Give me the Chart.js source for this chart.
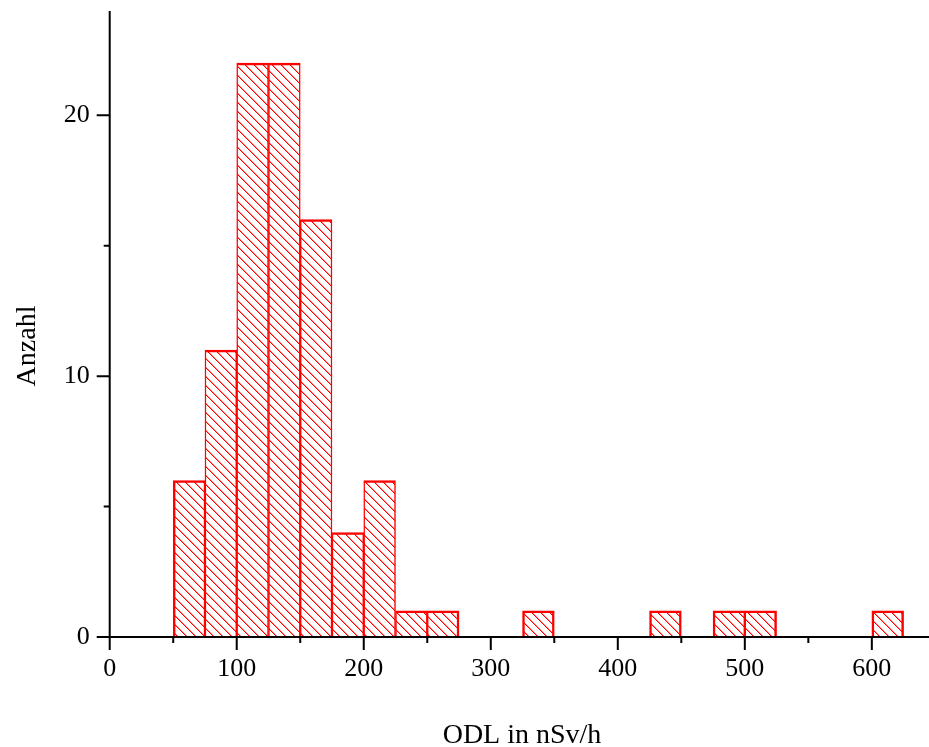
<!DOCTYPE html>
<html>
<head>
<meta charset="utf-8">
<script src="https://cdn.jsdelivr.net/npm/chart.js@4.4.1/dist/chart.umd.min.js"></script>
<style>
  html, body { margin: 0; padding: 0; background: #fff; }
  canvas { display: block; }
</style>
</head>
<body>
<canvas id="hist" width="929" height="747"></canvas>
<script>
// histogram bins (left edge, width 25 nSv/h) and counts
const binStart = [50, 75, 100, 125, 150, 175, 200, 225, 250, 325, 425, 475, 500, 600];
const counts   = [6, 11, 22, 22, 16, 4, 6, 1, 1, 1, 1, 1, 1, 1];
const binWidth = 25;

const xMajorTicks = [0, 100, 200, 300, 400, 500, 600];
const xMinorTicks = [50, 150, 250, 350, 450, 550];
const yMajorTicks = [0, 10, 20];
const yMinorTicks = [5, 15];

const xTitle = 'ODL in nSv/h';
const yTitle = 'Anzahl';

//////////

// crisp "\" hatch, 9px repeat
function hatchPattern(){
  const size = 9;
  const c = document.createElement('canvas');
  c.width = size;
  c.height = size;
  const g = c.getContext('2d');
  g.fillStyle = '#fff';
  g.fillRect(0, 0, size, size);
  for (let i = 0; i < size; i++){
    g.fillStyle = '#ff0000';
    g.fillRect(i, i, 1, 1);
    g.fillStyle = 'rgba(255,0,0,0.45)';
    g.fillRect((i + 1) % size, i, 1, 1);
  }
  return g.createPattern(c, 'repeat');
}

// shared edges between neighbouring bins get half width each
function edgeWidths(ctx){
  const s = binStart[ctx.dataIndex];
  return {
    top: 2.5,
    bottom: 0,
    left: binStart.includes(s - binWidth) ? 1.5 : 2.5,
    right: binStart.includes(s + binWidth) ? 1.5 : 2.5,
  };
}

const axesPlugin = {
  id: 'originAxes',
  afterDatasetsDraw(chart){
    const g = chart.ctx;
    const area = chart.chartArea;
    const xs = chart.scales.x;
    const ys = chart.scales.y;
    const y0 = ys.getPixelForValue(0);
    const x0 = xs.getPixelForValue(0);

    g.save();
    g.strokeStyle = '#000';
    g.lineWidth = 2;
    g.lineCap = 'butt';

    // axis lines
    g.beginPath();
    g.moveTo(area.left, y0); g.lineTo(area.right, y0);
    g.moveTo(x0, area.top); g.lineTo(x0, y0 + 1);
    g.stroke();

    // ticks
    g.beginPath();
    xMajorTicks.forEach(v => { const p = xs.getPixelForValue(v); g.moveTo(p, y0); g.lineTo(p, y0 + 13); });
    xMinorTicks.forEach(v => { const p = xs.getPixelForValue(v); g.moveTo(p, y0); g.lineTo(p, y0 + 6); });
    yMajorTicks.forEach(v => { const p = ys.getPixelForValue(v); g.moveTo(x0, p); g.lineTo(x0 - 13, p); });
    yMinorTicks.forEach(v => { const p = ys.getPixelForValue(v); g.moveTo(x0, p); g.lineTo(x0 - 6, p); });
    g.stroke();

    // tick labels
    g.fillStyle = '#000';
    g.font = '26px "Liberation Serif", "DejaVu Serif", serif';
    g.textAlign = 'center';
    g.textBaseline = 'alphabetic';
    xMajorTicks.forEach(v => g.fillText(String(v), xs.getPixelForValue(v), y0 + 39));
    g.textAlign = 'right';
    g.textBaseline = 'middle';
    yMajorTicks.forEach(v => g.fillText(String(v), x0 - 20, ys.getPixelForValue(v)));

    // axis titles
    g.font = '28px "Liberation Serif", "DejaVu Serif", serif';
    g.textAlign = 'center';
    g.textBaseline = 'alphabetic';
    g.fillText(xTitle, 522, 743);
    g.translate(35, 346);
    g.rotate(-Math.PI / 2);
    g.fillText(yTitle, 0, 0);
    g.restore();
  }
};

function renderHistogram(){
  const ctx = document.getElementById('hist');

  new Chart(ctx, {
    type: 'bar',
    data: {
      datasets: [
        {
          label: yTitle,
          data: binStart.map((s, i) => ({ x: s + binWidth / 2, y: counts[i] })),
          backgroundColor: hatchPattern(),
          borderColor: '#ff0000',
          borderWidth: edgeWidths,
          borderSkipped: false,
          barPercentage: 1,
          categoryPercentage: 1,
        }
      ]
    },
    options: {
      responsive: false,
      devicePixelRatio: 1,
      animation: false,
      layout: { padding: { left: 97, right: 0, top: 11, bottom: 110 } },
      plugins: { legend: { display: false }, tooltip: { enabled: false } },
      scales: {
        x: { type: 'linear', min: -10, max: 645, display: false, offset: false },
        y: { min: 0, max: 24, display: false },
      }
    },
    plugins: [axesPlugin]
  });
}

window.addEventListener('DOMContentLoaded', renderHistogram);
</script>
</body>
</html>
